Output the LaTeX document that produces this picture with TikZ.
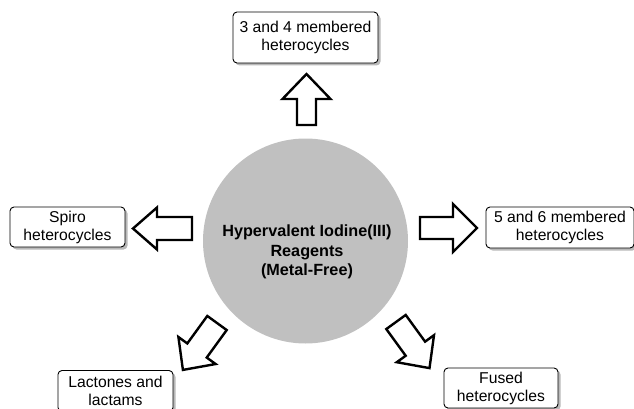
\documentclass[tikz,border=0pt]{standalone}
\usepackage{fontspec}
\setmainfont{Liberation Sans}
\usetikzlibrary{shadows}
\definecolor{circlegray}{RGB}{192,192,192}
\newcommand{\blockarr}[6]{%
  \draw[blockarrow, shift={#1}, rotate=#2]
    (0,-#4) -- ({#3-#6},-#4) -- ({#3-#6},-#5) -- (#3,0) -- ({#3-#6},#5) -- ({#3-#6},#4) -- (0,#4) -- cycle;}
\begin{document}
\begin{tikzpicture}[x=1pt,y=-1pt,
  box/.style={draw=black, line width=0.9pt, rounded corners=4pt, fill=white, align=center,
    inner sep=0pt, font=\fontsize{15.7}{18}\selectfont,
    drop shadow={shadow xshift=2.5pt, shadow yshift=-2.5pt, fill=gray!55, opacity=1}},
  blockarrow/.style={draw=black, line width=2.4pt, fill=white, line join=miter},
  hub/.style={circle, fill=circlegray, draw=none, minimum size=205pt, inner sep=0pt},
  hubtext/.style={align=center, font=\fontsize{16.2}{19.5}\selectfont\bfseries}]
\useasboundingbox (0,0) rectangle (634,409);
\node[hub] (hub) at (305.5,241) {};
\node[hubtext] (hubt) at (307,252) {Hypervalent Iodine(III)\\Reagents\\(Metal-Free)};
\node[box, minimum width=145pt, minimum height=51pt] (top) at (305.5,37.5) {3 and 4 membered\\heterocycles};
\node[box, minimum width=115pt, minimum height=40pt] (left) at (67.5,227) {Spiro\\heterocycles};
\node[box, minimum width=148pt, minimum height=41pt] (right) at (560,227.5) {5 and 6 membered\\heterocycles};
\node[box, minimum width=115pt, minimum height=41pt] (ll) at (115.5,391) {Lactones and\\lactams};
\node[box, minimum width=114pt, minimum height=40pt] (lr) at (501,388) {Fused\\heterocycles};
\blockarr{(306.5,125)}{90}{51}{9.5}{24}{25}
\blockarr{(192,228.5)}{180}{59}{11.5}{21}{24}
\blockarr{(420,228)}{0}{57}{11}{24}{24}
\blockarr{(217,323)}{234}{58}{12}{23}{24}
\blockarr{(396,322)}{306}{57}{12}{23}{24}
\end{tikzpicture}
\end{document}
